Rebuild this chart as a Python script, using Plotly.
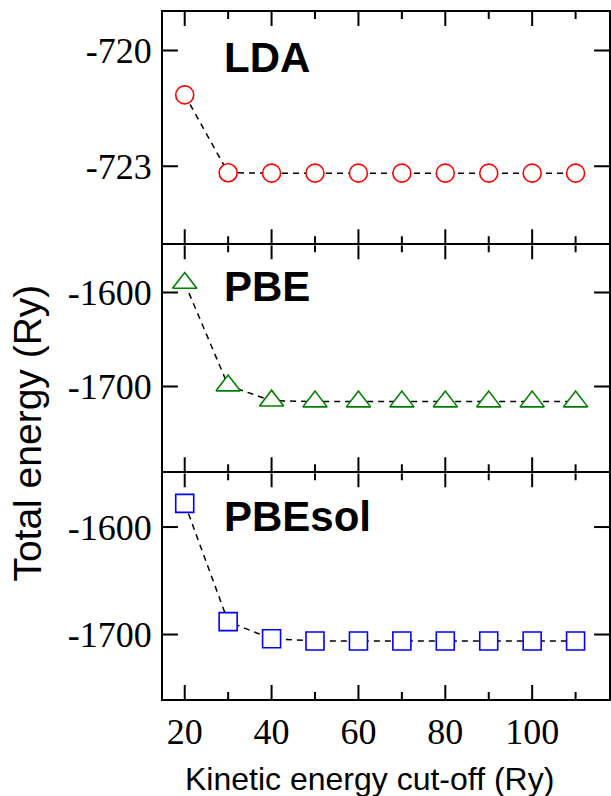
import plotly.graph_objects as go

# ---- data ----
cutoff_ry = [20, 30, 40, 50, 60, 70, 80, 90, 100, 110]
lda_energy = [-721.15, -723.17, -723.18, -723.18, -723.18, -723.18, -723.18, -723.18, -723.18, -723.18]
pbe_energy = [-1590, -1699, -1715, -1716, -1716, -1716, -1716, -1716, -1716, -1716]
pbesol_energy = [-1578, -1688, -1704, -1706, -1706, -1706, -1706, -1706, -1706, -1706]

x_tick_vals = [20, 40, 60, 80, 100]
x_minor_tick_vals = [30, 50, 70, 90, 110]
lda_tick_vals = [-720, -723]
pbe_tick_vals = [-1600, -1700]
pbesol_tick_vals = [-1600, -1700]

panel_names = ["LDA", "PBE", "PBEsol"]

# ---- figure ----
W, H = 611, 796
ML, MR, MT, MB = 163, 0, 12, 97
plot_h = H - MT - MB
plot_w = W - ML - MR
LW = 2

def frac(px_from_bottom):
    return px_from_bottom / plot_h

top_b, mid_b = 243.3, 471.3
bottom_axis = H - MB
dom_top = [frac(bottom_axis - top_b), 1.0]
dom_mid = [frac(bottom_axis - mid_b), frac(bottom_axis - top_b - LW)]
dom_bot = [0.0, frac(bottom_axis - mid_b - LW)]

xrange_ = [15, 15 + plot_w / 4.3625]
lda_range = [-725, -719]
pbe_range = [-1790, -1550]
pbesol_range = [-1760, -1550]

series = [
    (lda_energy, "circle", "#ff0000", 18, "x", "y", lda_tick_vals, lda_range, dom_top),
    (pbe_energy, "triangle-up", "#008000", 21, "x2", "y2", pbe_tick_vals, pbe_range, dom_mid),
    (pbesol_energy, "square", "#0000ff", 18, "x3", "y3", pbesol_tick_vals, pbesol_range, dom_bot),
]

fig = go.Figure()

# inward tick marks on all four sides of each panel, drawn as short line
# segments whose lengths are converted from pixels through each axis' scale
x_per_px = (xrange_[1] - xrange_[0]) / plot_w
for _, _, _, _, xa, ya, ytv, yr, dom in series:
    y_per_px = (yr[1] - yr[0]) / ((dom[1] - dom[0]) * plot_h)
    xs, ys = [], []
    for vals, ln in ((x_tick_vals, 14), (x_minor_tick_vals, 7)):
        for v in vals:
            xs += [v, v, None, v, v, None]
            ys += [yr[0], yr[0] + ln * y_per_px, None, yr[1], yr[1] - ln * y_per_px, None]
    for t in ytv:
        xs += [xrange_[0], xrange_[0] + 15 * x_per_px, None,
               xrange_[1], xrange_[1] - 15 * x_per_px, None]
        ys += [t, t, None, t, t, None]
    fig.add_trace(go.Scatter(
        x=xs, y=ys, xaxis=xa, yaxis=ya, mode="lines",
        line=dict(color="black", width=2),
        hoverinfo="skip", showlegend=False))

for vals, sym, col, size, xa, ya, _, _, _ in series:
    fig.add_trace(go.Scatter(
        x=cutoff_ry, y=vals, xaxis=xa, yaxis=ya, mode="lines+markers",
        line=dict(color="black", width=1.5, dash="6px,5px"),
        marker=dict(symbol=sym, size=size, color="white",
                    line=dict(color=col, width=1.6)),
        showlegend=False,
    ))

serif = "Liberation Serif"
sans = "Liberation Sans"

def xaxis(anchor, labels):
    return dict(
        domain=[0, 1], anchor=anchor, range=xrange_,
        tickmode="array", tickvals=x_tick_vals, ticks="",
        showline=True, linewidth=LW, linecolor="black", mirror=True,
        showgrid=False, zeroline=False, showticklabels=labels,
        tickfont=dict(family=serif, size=36, color="black"),
    )

def yaxis(anchor, dom, rng, tv):
    return dict(
        domain=dom, anchor=anchor, range=rng,
        tickmode="array", tickvals=tv, ticktext=[str(v) for v in tv], ticks="",
        showline=True, linewidth=LW, linecolor="black", mirror=True,
        showgrid=False, zeroline=False,
        tickfont=dict(family=serif, size=36, color="black"),
        ticklabelstandoff=2,
    )

fig.update_layout(
    width=W, height=H,
    margin=dict(l=ML, r=MR, t=MT, b=MB, pad=0),
    paper_bgcolor="white", plot_bgcolor="white",
    xaxis=xaxis("y", False),
    xaxis2=xaxis("y2", False),
    xaxis3=xaxis("y3", True),
    yaxis=yaxis("x", dom_top, lda_range, lda_tick_vals),
    yaxis2=yaxis("x2", dom_mid, pbe_range, pbe_tick_vals),
    yaxis3=yaxis("x3", dom_bot, pbesol_range, pbesol_tick_vals),
)

label_pos = [("x", "y domain", 0.805), ("x2", "y2 domain", 0.817), ("x3", "y3 domain", 0.807)]
for name, (xr, yr, yy) in zip(panel_names, label_pos):
    fig.add_annotation(text="<b>%s</b>" % name, xref=xr, yref=yr, x=28.5, y=yy,
                       xanchor="left", yanchor="middle", showarrow=False,
                       font=dict(family=sans, size=42, color="black"))

fig.add_annotation(text="Kinetic energy cut-off (Ry)", xref="paper", yref="paper",
                   x=(370 - ML) / plot_w, y=frac(bottom_axis - 779),
                   xanchor="center", yanchor="middle", showarrow=False,
                   font=dict(family=sans, size=32, color="black"))
fig.add_annotation(text="Total energy (Ry)", xref="paper", yref="paper",
                   x=(26 - ML) / plot_w, y=frac(bottom_axis - 433),
                   xanchor="center", yanchor="middle", showarrow=False, textangle=-90,
                   font=dict(family=sans, size=39, color="black"))

fig.write_html("out.html", config={"displayModeBar": False},
               post_script="document.body.style.margin='0';document.body.style.overflow='hidden';")
